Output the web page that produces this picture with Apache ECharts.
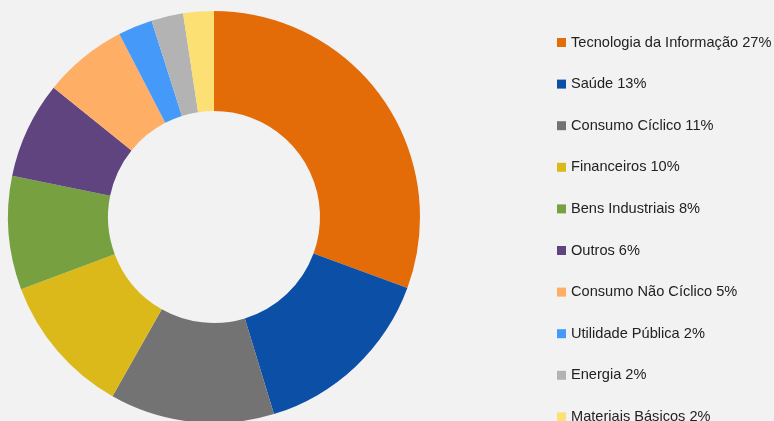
<!DOCTYPE html>
<html>
<head>
<meta charset="utf-8">
<script src="https://cdn.jsdelivr.net/npm/echarts@6/dist/echarts.min.js"></script>
<style>
  html, body { margin: 0; padding: 0; background: #f2f2f2; }
  #setores { width: 774px; height: 421px; }
</style>
</head>
<body>
<div id="setores"></div>
<script>
// setores e % mostrados na legenda
const setores = ['Tecnologia da Informação', 'Saúde', 'Consumo Cíclico', 'Financeiros', 'Bens Industriais',
    'Outros', 'Consumo Não Cíclico', 'Utilidade Pública', 'Energia', 'Materiais Básicos'];
const percLegenda = [27, 13, 11, 10, 8, 6, 5, 2, 2, 2];
// tamanho de cada fatia
const fatias = [30.6, 14.7, 12.9, 11.1, 8.9, 7.6, 6.6, 2.7, 2.5, 2.4];
const cores = ['#e36c09', '#0b4fa6', '#737373', '#dcb91a', '#77a040',
    '#5f4480', '#ffae66', '#4499f9', '#b3b3b3', '#fde073'];

let chartSetores = echarts.init(document.getElementById('setores'));

const option = {
    backgroundColor: '#f2f2f2',
    color: cores,
    legend: {
        orient: 'vertical',
        left: 557,
        top: 35,
        height: 440,
        padding: 0,
        itemWidth: 9,
        itemHeight: 9,
        itemGap: 26.6,
        icon: 'rect',
        textStyle: { fontFamily: 'Liberation Sans', fontSize: 14.6, lineHeight: 14, color: '#222222' },
        formatter: function (name) {
            return name + ' ' + percLegenda[setores.indexOf(name)] + '%';
        },
        data: setores
    },
    series: [
        {
            type: 'pie',
            center: [214, 217],
            radius: [106, 206],
            startAngle: 90,
            clockwise: true,
            label: { show: false },
            labelLine: { show: false },
            itemStyle: { borderWidth: 0 },
            emphasis: { disabled: true },
            animation: false,
            data: setores.map((s, i) => ({ name: s, value: fatias[i] }))
        }
    ]
};

option && chartSetores.setOption(option);
window.addEventListener('resize', chartSetores.resize);
</script>
</body>
</html>
